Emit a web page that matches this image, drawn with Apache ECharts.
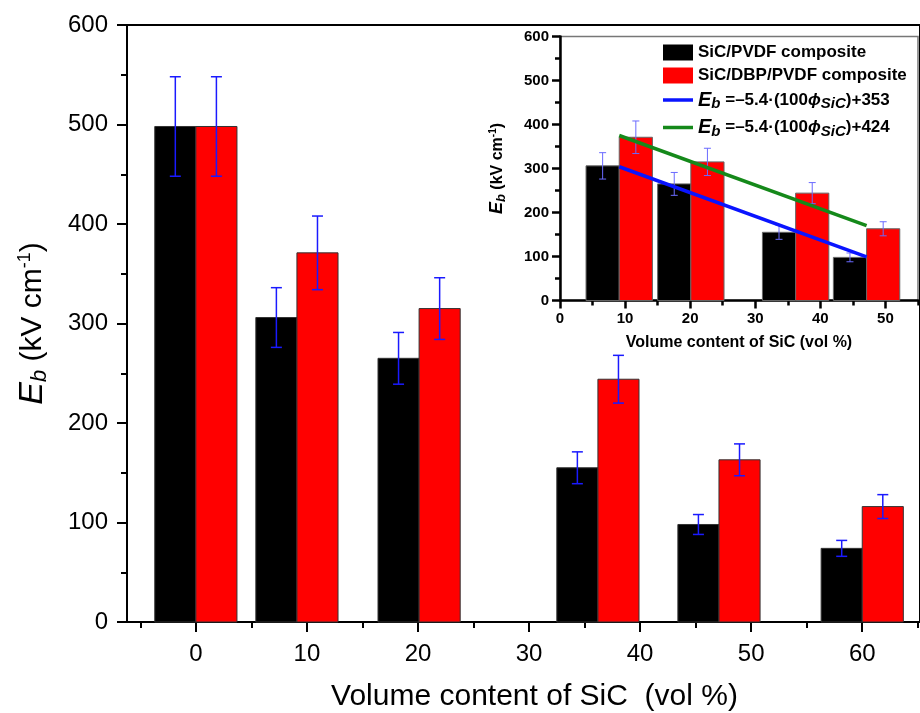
<!DOCTYPE html>
<html><head><meta charset="utf-8">
<script src="https://cdn.jsdelivr.net/npm/echarts@6/dist/echarts.min.js"></script>
<style>html,body{margin:0;padding:0;background:#fff}#c{width:920px;height:713px}</style>
</head><body><div id="c"></div>
<script>
// ---- data ----
const xPos     = [0, 9.1, 20.1, 36.2, 47.1, 60];       // vol % (group centre)
const pvdf     = [498, 306, 265, 155, 98, 74];         // SiC/PVDF  Eb (kV/cm)
const pvdfErr  = [50, 30, 26, 16, 10, 8];
const dbp      = [498, 371, 315, 244, 163, 116];       // SiC/DBP/PVDF Eb
const dbpErr   = [50, 37, 31, 24, 16, 12];
const insetIdx = [1, 2, 3, 4];                         // groups shown in the inset
const fitX     = [9.1, 47.1];
const fitLow   = [304, 99];                            // Eb = -5.4(100phi)+353
const fitHigh  = [375, 170];                           // Eb = -5.4(100phi)+424
const mainXTicks  = [0, 10, 20, 30, 40, 50, 60];
const mainXMinor  = [-5, 5, 15, 25, 35, 45, 55, 65];
const insetXTicks = [0, 10, 20, 30, 40, 50];
const insetXMinor = [5, 15, 25, 35, 45, 55];

const FONT = 'Liberation Sans, Arial, sans-serif';

function barRenderer(side, width, errColor, errW, capHalf, borderColor) {
  return function (params, api) {
    const x = api.value(0), v = api.value(1), e = api.value(2);
    const x0 = side < 0 ? x - width : x;
    const x1 = side < 0 ? x : x + width;
    const p0 = api.coord([x0, v]);
    const p1 = api.coord([x1, 0]);
    const cx = (p0[0] + p1[0]) / 2;
    const top = api.coord([x, v + e])[1];
    const bot = api.coord([x, v - e])[1];
    const es = { stroke: errColor, lineWidth: errW };
    return { type: 'group', children: [
      { type: 'rect', shape: { x: p0[0], y: p0[1], width: p1[0] - p0[0], height: p1[1] - p0[1] },
        style: { fill: api.visual('color'), stroke: borderColor, lineWidth: 1 } },
      { type: 'line', shape: { x1: cx, y1: top, x2: cx, y2: bot }, style: es },
      { type: 'line', shape: { x1: cx - capHalf, y1: top, x2: cx + capHalf, y2: top }, style: es },
      { type: 'line', shape: { x1: cx - capHalf, y1: bot, x2: cx + capHalf, y2: bot }, style: es }
    ]};
  };
}

const mainPvdf = xPos.map((x, i) => [x, pvdf[i], pvdfErr[i]]);
const mainDbp  = xPos.map((x, i) => [x, dbp[i], dbpErr[i]]);
const insPvdf  = insetIdx.map(i => [xPos[i], pvdf[i], pvdfErr[i]]);
const insDbp   = insetIdx.map(i => [xPos[i], dbp[i], dbpErr[i]]);

const axisBlack = { color: '#000', width: 2 };
const insBlack = { color: '#000', width: 2.5 };
const lineIcon = 'path://M0,0 H30 V3.5 H0 Z';

const chart = echarts.init(document.getElementById('c'), null, { renderer: 'canvas' });
chart.setOption({
  animation: false,
  backgroundColor: '#fff',
  textStyle: { fontFamily: FONT },
  grid: [
    { left: 127, top: 25, right: 0, bottom: 91, show: true, borderColor: '#000', borderWidth: 2,
      outerBoundsMode: 'none', containLabel: false },
    { left: 560, top: 36.5, right: 2, bottom: 412.5, show: true, borderColor: '#777', borderWidth: 1.5,
      backgroundColor: '#fff', outerBoundsMode: 'none', containLabel: false }
  ],
  xAxis: [
    { gridIndex: 0, type: 'value', position: 'bottom', min: -6.2, max: 65.2,
      axisLine: { show: true, onZero: false, lineStyle: axisBlack },
      axisTick: { show: true, customValues: mainXTicks, length: 10, lineStyle: axisBlack },
      axisLabel: { customValues: mainXTicks, fontSize: 24, color: '#000', margin: 20, fontFamily: FONT },
      splitLine: { show: false },
      name: 'Volume content of SiC  (vol %)', nameLocation: 'middle', nameGap: 60,
      nameTextStyle: { fontSize: 30, color: '#000', fontFamily: FONT, padding: [0, 0, 0, 22] } },
    { gridIndex: 0, type: 'value', position: 'bottom', min: -6.2, max: 65.2,
      axisLine: { show: false, onZero: false },
      axisTick: { show: true, customValues: mainXMinor, length: 6, lineStyle: axisBlack },
      axisLabel: { show: false }, splitLine: { show: false } },
    { gridIndex: 1, type: 'value', position: 'bottom', min: 0, max: 55,
      axisLine: { show: true, onZero: false, lineStyle: insBlack },
      axisTick: { show: true, customValues: insetXTicks, length: 8, lineStyle: insBlack },
      axisLabel: { customValues: insetXTicks, fontSize: 15, fontWeight: 'bold', color: '#000', margin: 11, fontFamily: FONT },
      splitLine: { show: false },
      name: 'Volume content of SiC (vol %)', nameLocation: 'middle', nameGap: 34,
      nameTextStyle: { fontSize: 16, fontWeight: 'bold', color: '#000', fontFamily: FONT } },
    { gridIndex: 1, type: 'value', position: 'bottom', min: 0, max: 55,
      axisLine: { show: false, onZero: false },
      axisTick: { show: true, customValues: insetXMinor, length: 5, lineStyle: insBlack },
      axisLabel: { show: false }, splitLine: { show: false } }
  ],
  yAxis: [
    { gridIndex: 0, type: 'value', min: 0, max: 600, interval: 100,
      axisLine: { show: true, onZero: false, lineStyle: axisBlack },
      axisTick: { show: true, length: 10, lineStyle: axisBlack },
      minorTick: { show: true, splitNumber: 2, length: 6, lineStyle: axisBlack },
      axisLabel: { fontSize: 24, color: '#000', margin: 19, fontFamily: FONT },
      splitLine: { show: false },
      name: '{e|E}{b|b}{t| (kV cm}{u|-1}{t|)}', nameLocation: 'middle', nameGap: 76,
      nameTextStyle: { color: '#000', fontFamily: FONT, rich: {
        e: { fontSize: 34, fontStyle: 'italic', fontFamily: FONT },
        b: { fontSize: 22, fontStyle: 'italic', fontFamily: FONT, padding: [14, 0, 0, 0] },
        t: { fontSize: 30, fontFamily: FONT },
        u: { fontSize: 18, fontFamily: FONT, padding: [0, 0, 15, 0] }
      } } },
    { gridIndex: 1, type: 'value', min: 0, max: 600, interval: 100,
      axisLine: { show: true, onZero: false, lineStyle: insBlack },
      axisTick: { show: true, length: 8, lineStyle: insBlack },
      minorTick: { show: true, splitNumber: 2, length: 5, lineStyle: insBlack },
      axisLabel: { fontSize: 15, fontWeight: 'bold', color: '#000', margin: 11, fontFamily: FONT },
      splitLine: { show: false },
      name: '{e|E}{b|b}{t| (kV cm}{u|-1}{t|)}', nameLocation: 'middle', nameGap: 52,
      nameTextStyle: { color: '#000', fontFamily: FONT, rich: {
        e: { fontSize: 18, fontStyle: 'italic', fontWeight: 'bold', fontFamily: FONT },
        b: { fontSize: 13, fontStyle: 'italic', fontWeight: 'bold', fontFamily: FONT, padding: [8, 0, 0, 0] },
        t: { fontSize: 16, fontWeight: 'bold', fontFamily: FONT },
        u: { fontSize: 10, fontWeight: 'bold', fontFamily: FONT, padding: [0, 0, 9, 0] }
      } } }
  ],
  legend: {
    orient: 'vertical', left: 658, top: 39, itemWidth: 30, itemHeight: 16, itemGap: 6,
    itemStyle: { borderWidth: 0 },
    data: [
      { name: 'SiC/PVDF composite', icon: 'rect' },
      { name: 'SiC/DBP/PVDF composite', icon: 'rect' },
      { name: 'fitLow', icon: lineIcon },
      { name: 'fitHigh', icon: lineIcon }
    ],
    formatter: function (name) {
      if (name === 'fitLow')  return '{e|E}{b|b}{t| =\u20135.4\u00b7(100}{p|\u03d5}{s|SiC}{t|)+353}';
      if (name === 'fitHigh') return '{e|E}{b|b}{t| =\u20135.4\u00b7(100}{p|\u03d5}{s|SiC}{t|)+424}';
      return '{t|' + name + '}';
    },
    textStyle: { color: '#000', fontFamily: FONT, rich: {
      e: { fontSize: 20, fontStyle: 'italic', fontWeight: 'bold', fontFamily: FONT },
      b: { fontSize: 15, fontStyle: 'italic', fontWeight: 'bold', fontFamily: FONT, padding: [8, 0, 0, 0] },
      t: { fontSize: 17, fontWeight: 'bold', fontFamily: FONT },
      p: { fontSize: 17, fontStyle: 'italic', fontWeight: 'bold', fontFamily: FONT },
      s: { fontSize: 15, fontStyle: 'italic', fontWeight: 'bold', fontFamily: FONT, padding: [8, 0, 0, 0] }
    } }
  },
  series: [
    { type: 'custom', name: 'SiC/PVDF composite', xAxisIndex: 0, yAxisIndex: 0,
      itemStyle: { color: '#000' }, data: mainPvdf,
      renderItem: barRenderer(-1, 3.7, '#1a1aff', 1.5, 5.5, '#333') },
    { type: 'custom', name: 'SiC/DBP/PVDF composite', xAxisIndex: 0, yAxisIndex: 0,
      itemStyle: { color: '#ff0000' }, data: mainDbp,
      renderItem: barRenderer(1, 3.7, '#1a1aff', 1.5, 5.5, '#333') },
    { type: 'custom', name: 'SiC/PVDF composite', xAxisIndex: 2, yAxisIndex: 1,
      itemStyle: { color: '#000' }, data: insPvdf,
      renderItem: barRenderer(-1, 5.1, '#6a6aff', 1, 3.5, '#666') },
    { type: 'custom', name: 'SiC/DBP/PVDF composite', xAxisIndex: 2, yAxisIndex: 1,
      itemStyle: { color: '#ff0000' }, data: insDbp,
      renderItem: barRenderer(1, 5.1, '#6a6aff', 1, 3.5, '#666') },
    { type: 'line', name: 'fitLow', xAxisIndex: 2, yAxisIndex: 1, symbol: 'none', z: 5,
      data: fitX.map((x, i) => [x, fitLow[i]]),
      lineStyle: { color: '#0a14ff', width: 3.5 }, itemStyle: { color: '#0a14ff' } },
    { type: 'line', name: 'fitHigh', xAxisIndex: 2, yAxisIndex: 1, symbol: 'none', z: 5,
      data: fitX.map((x, i) => [x, fitHigh[i]]),
      lineStyle: { color: '#15891a', width: 3.5 }, itemStyle: { color: '#15891a' } }
  ]
});
</script></body></html>
